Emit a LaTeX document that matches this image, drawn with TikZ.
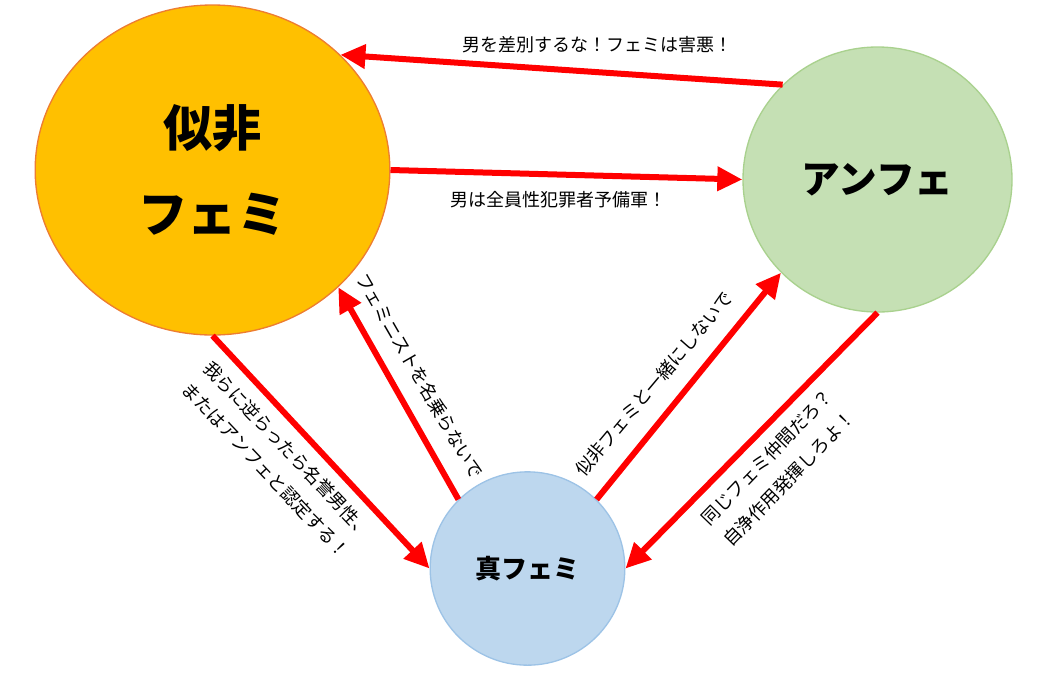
\documentclass[tikz,border=0pt]{standalone}
\usepackage{fontspec}
\setmainfont{Noto Sans CJK JP}
\usetikzlibrary{shapes.geometric,arrows.meta}
\definecolor{fakefill}{HTML}{FFC000}
\definecolor{fakeline}{HTML}{ED7D31}
\definecolor{antifill}{HTML}{C5E0B4}
\definecolor{antiline}{HTML}{A9D18E}
\definecolor{truefill}{HTML}{BDD7EE}
\definecolor{trueline}{HTML}{9DC3E6}
\begin{document}
\begin{tikzpicture}[
  x=0.75pt, y=-0.75pt,
  bubble/.style={draw, ellipse, line width=1pt, inner sep=0pt, align=center},
  link/.style={draw=red, line width=4.5pt, -{Triangle[length=18.75pt,width=17.5pt]}},
  saying/.style={font=\fontsize{13.5}{22.7}\selectfont, align=center, inner sep=0pt}
]
\useasboundingbox (0,0) rectangle (1045,672);
% the three camps
\node[bubble, fill=fakefill, draw=fakeline, minimum width=266pt, minimum height=247.5pt,
  font=\bfseries\fontsize{37}{64}\selectfont] (fake) at (212.5,170) {似非\\フェミ};
\node[bubble, fill=antifill, draw=antiline, minimum width=201.75pt, minimum height=198.75pt,
  font=\bfseries\fontsize{29}{34}\selectfont] (anti) at (877.5,179.5) {アンフェ};
\node[bubble, fill=truefill, draw=trueline, minimum width=146pt, minimum height=145pt,
  font=\bfseries\fontsize{19.5}{24}\selectfont] (true) at (527.5,568.5) {真フェミ};
% what they shout at each other
\draw[link] (anti.135) -- (fake.42);
\draw[link] (fake.0) -- (anti.180);
\draw[link] (fake.270) -- (true.180);
\draw[link] (true.135) -- (fake.-43);
\draw[link] (true.45) -- (anti.224);
\draw[link] (anti.270) -- (true.0);
\node[saying] (s1) at (597,45) {男を差別するな！フェミは害悪！};
\node[saying] (s2) at (558,200) {男は全員性犯罪者予備軍！};
\node[saying, rotate=-46.5] (s3) at (277,460) {我らに逆らったら名誉男性、\\またはアンフェと認定する！};
\node[saying, rotate=-60] (s4) at (420,376) {フェミニストを名乗らないで};
\node[saying, rotate=50] (s5) at (654,384) {似非フェミと一緒にしないで};
\node[saying, rotate=46] (s6) at (778,468) {同じフェミ仲間だろ？\\自浄作用発揮しろよ！};
\end{tikzpicture}
\end{document}
